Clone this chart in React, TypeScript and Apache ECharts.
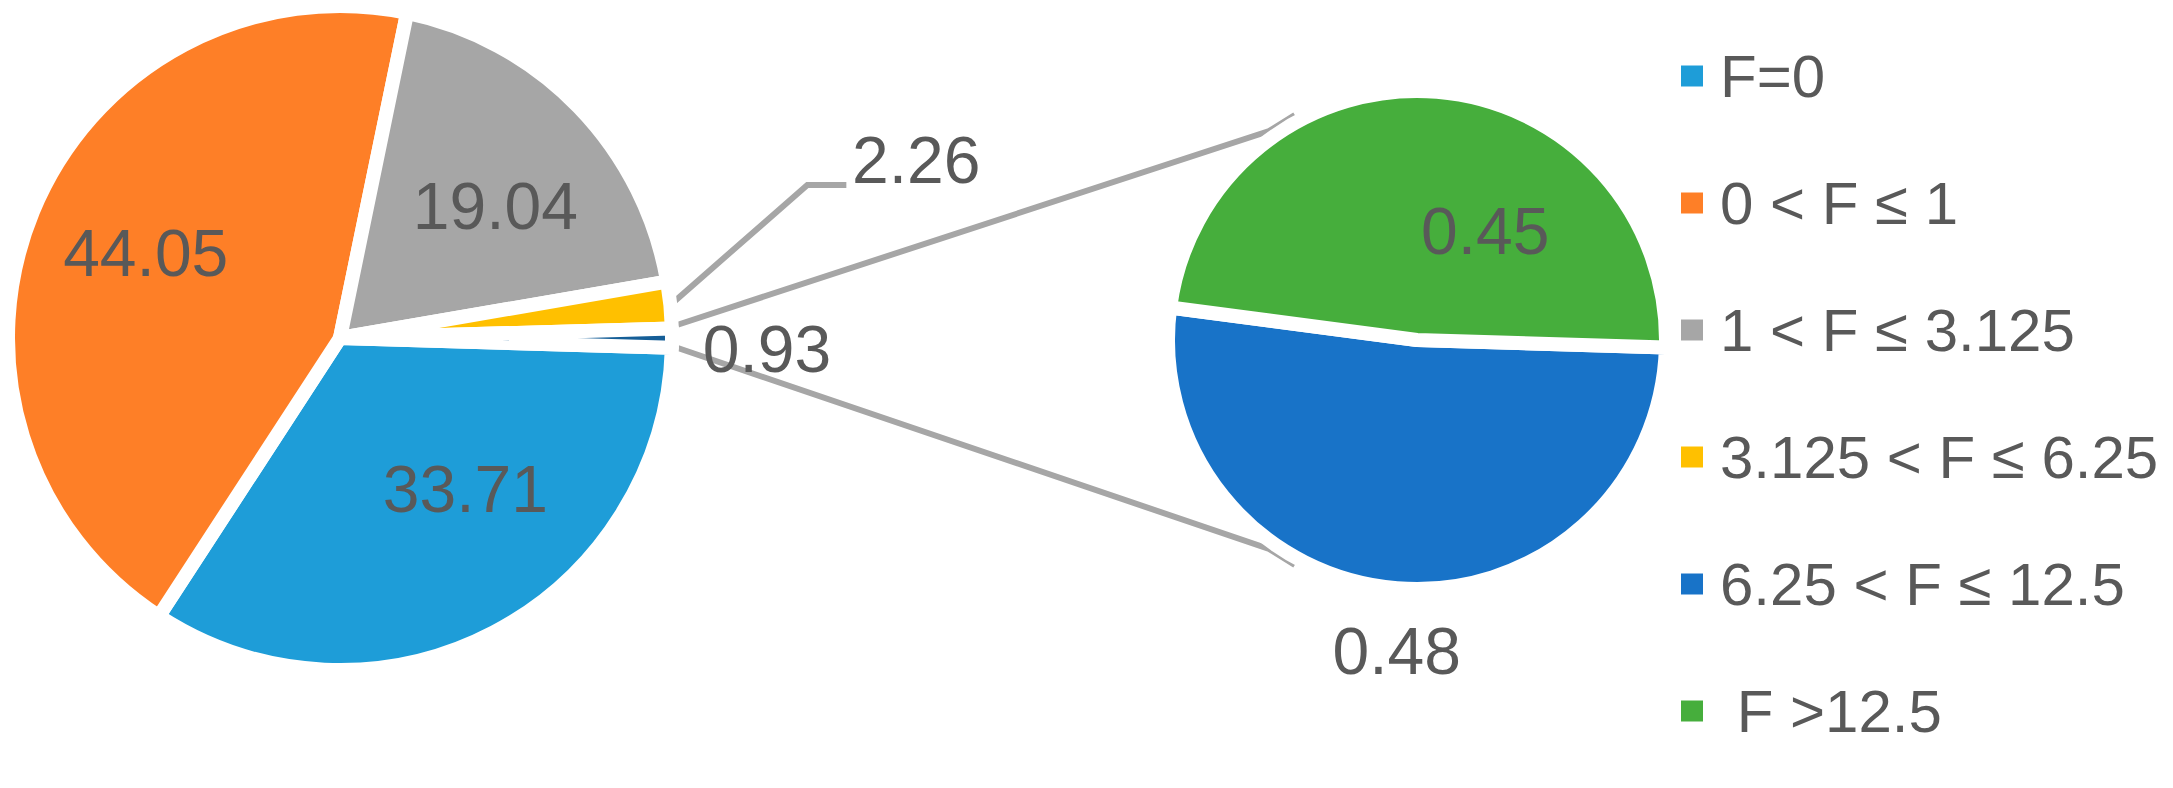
import React, { useEffect, useRef } from "react";
import * as echarts from "echarts";

// ---- data ----
const mainNames = ["F=0", "0 < F ≤ 1", "1 < F ≤ 3.125", "3.125 < F ≤ 6.25"];
const mainValues = [33.71, 44.05, 19.04, 2.26];
const otherName = "Other";
const otherValue = 0.93;
const subNames = ["6.25 < F ≤ 12.5", " F >12.5"];
const subValues = [0.48, 0.45];
const legendNames = ["F=0", "0 < F ≤ 1", "1 < F ≤ 3.125", "3.125 < F ≤ 6.25", "6.25 < F ≤ 12.5", " F >12.5"];

// ---- styles ----
const mainColors = ["#1E9DD8", "#FE7F27", "#A6A6A6", "#FFC000"];
const otherColor = "#155E97";
const subColors = ["#1873C8", "#46AE3C"];
const TEXT = "#595959";
const FONT = "Liberation Sans";

// layout
const MAIN_C = [340, 338];
const MAIN_R = 332;
const MAIN_BORDER = 14;
const MAIN_START = -1.7;
const SUB_C = [1417, 340];
const SUB_R = 249;
const SUB_BORDER = 14;
const SUB_START = -1.7;

// label offsets from the default inside position
const mainLabelOffsets = [
  [47, 1],
  [-38, -21],
  [34, -14],
  [408, -161],
  [258, 11],
];
const subLabelOffsets = [
  [-10, 184],
  [58, 18],
];

const deg = Math.PI / 180;
function polar(c: number[], r: number, a: number) {
  return [c[0] + r * Math.cos(a * deg), c[1] - r * Math.sin(a * deg)];
}

export default function App() {
  const ref = useRef<HTMLDivElement>(null);
  useEffect(() => {
    if (!ref.current) return;
    const chart = echarts.init(ref.current, null, { renderer: "svg" });

    // angles of the main pie slices (derived from data)
    const all = [...mainValues, otherValue];
    const total = all.reduce((a, b) => a + b, 0);
    const bounds: number[] = [MAIN_START];
    all.forEach((v) => bounds.push(bounds[bounds.length - 1] - (v / total) * 360));
    const yellowMid = (bounds[3] + bounds[4]) / 2;
    const otherTop = bounds[4];
    const otherBottom = bounds[5];
    const visR = MAIN_R - MAIN_BORDER / 2;

    const p0 = polar(MAIN_C, visR + 7, yellowMid);
    const p1 = [p0[0] + 137, p0[1] - 120];
    const p2 = [p1[0] + 39, p1[1]];

    const up0 = polar(MAIN_C, visR + 13, otherTop + 0.6);
    const up1 = polar(SUB_C, 256, 125.3);
    const up2 = polar(SUB_C, 256, 118.5);
    const lo0 = polar(MAIN_C, visR + 13, otherBottom);
    const lo1 = polar(SUB_C, 256, -125.3);
    const lo2 = polar(SUB_C, 256, -118.5);

    const lineStyle = { stroke: "#A6A6A6", lineWidth: 6, fill: null, lineJoin: "miter" };

    const labelBase = {
      show: true,
      position: "inside",
      fontSize: 66,
      color: TEXT,
      fontFamily: FONT,
      formatter: (p: any) => Number(p.value).toFixed(2),
    };

    chart.setOption({
      animation: false,
      backgroundColor: "#ffffff",
      legend: {
        orient: "vertical",
        left: 1674,
        top: 41,
        itemWidth: 24,
        itemHeight: 23,
        itemGap: 67,
        icon: "rect",
        selectedMode: false,
        data: legendNames,
        textStyle: {
          fontSize: 60,
          color: TEXT,
          fontFamily: FONT,
          lineHeight: 60,
          padding: [0, 0, 0, 11],
        },
      },
      graphic: [
        { type: "polyline", shape: { points: [p0, p1, p2] }, style: lineStyle, silent: true },
        { type: "polyline", shape: { points: [up0, up1, up2] }, style: lineStyle, silent: true },
        { type: "polyline", shape: { points: [lo0, lo1, lo2] }, style: lineStyle, silent: true },
      ],
      series: [
        {
          type: "pie",
          center: MAIN_C,
          radius: MAIN_R,
          startAngle: MAIN_START,
          clockwise: true,
          avoidLabelOverlap: false,
          silent: true,
          emphasis: { disabled: true },
          itemStyle: { borderColor: "#ffffff", borderWidth: MAIN_BORDER },
          label: labelBase,
          labelLine: { show: false },
          labelLayout: (p: any) => ({ dx: mainLabelOffsets[p.dataIndex][0], dy: mainLabelOffsets[p.dataIndex][1] }),
          data: [
            ...mainNames.map((n, i) => ({ name: n, value: mainValues[i], itemStyle: { color: mainColors[i] } })),
            { name: otherName, value: otherValue, itemStyle: { color: otherColor } },
          ],
        },
        {
          type: "pie",
          center: SUB_C,
          radius: SUB_R,
          startAngle: SUB_START,
          clockwise: true,
          avoidLabelOverlap: false,
          silent: true,
          emphasis: { disabled: true },
          itemStyle: { borderColor: "#ffffff", borderWidth: SUB_BORDER },
          label: labelBase,
          labelLine: { show: false },
          labelLayout: (p: any) => ({ dx: subLabelOffsets[p.dataIndex][0], dy: subLabelOffsets[p.dataIndex][1] }),
          data: subNames.map((n, i) => ({ name: n, value: subValues[i], itemStyle: { color: subColors[i] } })),
        },
      ],
    });
    return () => chart.dispose();
  }, []);
  return (
    <div
      ref={ref}
      style={{ position: "fixed", left: 0, top: 0, width: 2173, height: 788, background: "#fff" }}
    />
  );
}
